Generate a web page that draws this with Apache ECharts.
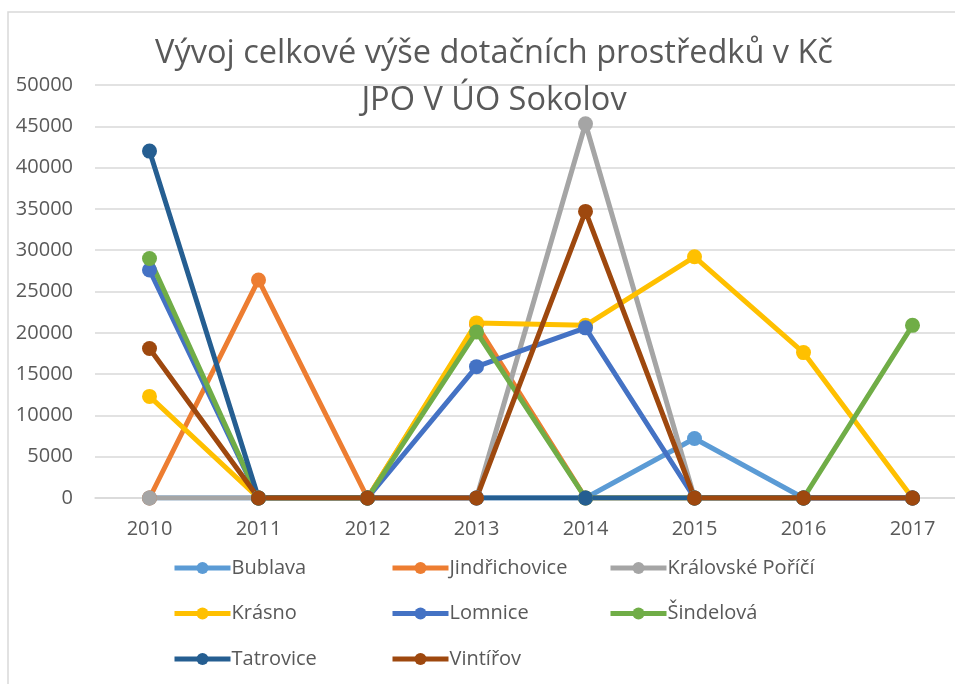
<!DOCTYPE html>
<html>
<head>
<meta charset="utf-8">
<script src="https://cdn.jsdelivr.net/npm/echarts@6/dist/echarts.min.js"></script>
<style>
  html, body { margin: 0; padding: 0; background: #fff; }
  #chart { width: 955px; height: 684px; }
</style>
</head>
<body>
<div id="chart"></div>
<script>
// years on the x axis
const years = ['2010', '2011', '2012', '2013', '2014', '2015', '2016', '2017']

// values per municipality (Kč)
const bublava = [0, 0, 0, 0, 0, 7200, 0, 0]
const jindrichovice = [0, 26400, 0, 21000, 0, 0, 0, 0]
const kralovskePorici = [0, 0, 0, 0, 45300, 0, 0, 0]
const krasno = [12300, 0, 0, 21200, 20900, 29200, 17600, 0]
const lomnice = [27600, 0, 0, 15900, 20600, 0, 0, 0]
const sindelova = [29000, 0, 0, 20100, 0, 0, 0, 20900]
const tatrovice = [42000, 0, 0, 0, 0, 0, 0, 0]
const vintirov = [18100, 0, 0, 0, 34700, 0, 0, 0]

const seriesDefs = [
  { name: 'Bublava', data: bublava, color: '#5B9BD5' },
  { name: 'Jindřichovice', data: jindrichovice, color: '#ED7D31' },
  { name: 'Královské Poříčí', data: kralovskePorici, color: '#A5A5A5' },
  { name: 'Krásno', data: krasno, color: '#FFC000' },
  { name: 'Lomnice', data: lomnice, color: '#4472C4' },
  { name: 'Šindelová', data: sindelova, color: '#70AD47' },
  { name: 'Tatrovice', data: tatrovice, color: '#255E91' },
  { name: 'Vintířov', data: vintirov, color: '#9E480E' },
]

const textColor = '#595959'
const font = "'Open Sans', 'Noto Sans', sans-serif"

const chart = echarts.init(document.getElementById('chart'))

const legendBase = {
  orient: 'vertical',
  itemWidth: 56,
  itemHeight: 15,
  itemGap: 25.5,
  top: 553,
  lineStyle: { width: 5 },
  textStyle: { color: textColor, fontSize: 20, fontFamily: font, padding: [0, 0, 0, -4] },
}

const option = {
  animation: false,
  backgroundColor: '#fff',
  title: {
    text: 'Vývoj celkové výše dotačních prostředků v Kč\nJPO V ÚO Sokolov',
    left: 489,
    textAlign: 'center',
    top: 25,
    textStyle: {
      color: textColor,
      fontSize: 32.5,
      fontWeight: 'normal',
      fontFamily: font,
      lineHeight: 47,
    },
  },
  graphic: [
    {
      type: 'rect',
      shape: { x: 8, y: 12, width: 1000, height: 700 },
      style: { fill: 'none', stroke: '#d9d9d9', lineWidth: 1.5 },
      silent: true,
    },
  ],
  legend: [
    Object.assign({}, legendBase, { left: 167, data: ['Bublava', 'Krásno', 'Tatrovice'] }),
    Object.assign({}, legendBase, { left: 385, data: ['Jindřichovice', 'Lomnice', 'Vintířov'] }),
    Object.assign({}, legendBase, { left: 603, data: ['Královské Poříčí', 'Šindelová'] }),
  ],
  grid: {
    left: 95,
    top: 85,
    width: 872,
    height: 413,
    outerBoundsMode: 'none',
  },
  xAxis: {
    type: 'category',
    data: years,
    boundaryGap: true,
    axisLine: { show: true, lineStyle: { color: '#d9d9d9', width: 1.5 } },
    axisTick: { show: false },
    axisLabel: { color: textColor, fontSize: 20, fontFamily: font, margin: 21 },
  },
  yAxis: {
    type: 'value',
    min: 0,
    max: 50000,
    interval: 5000,
    axisLine: { show: false },
    axisTick: { show: false },
    splitLine: { lineStyle: { color: '#d9d9d9', width: 1.5 } },
    axisLabel: {
      color: textColor,
      fontSize: 20,
      fontFamily: font,
      margin: 22,
      formatter: (v) => String(v),
    },
  },
  series: seriesDefs.map((s) => ({
    name: s.name,
    type: 'line',
    data: s.data,
    symbol: 'circle',
    symbolSize: 15,
    color: s.color,
    lineStyle: { width: 5, color: s.color },
    itemStyle: { color: s.color },
  })),
}

chart.setOption(option)
</script>
</body>
</html>
